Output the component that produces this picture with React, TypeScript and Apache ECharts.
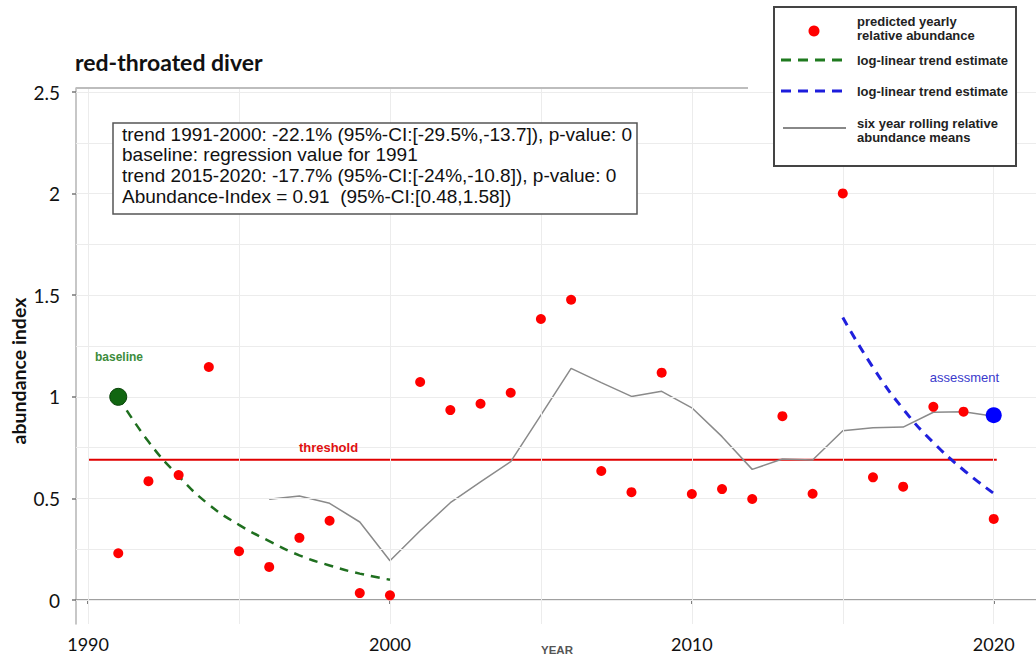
import React, { useEffect, useRef } from "react";
import * as echarts from "echarts";

const years = [1991, 1992, 1993, 1994, 1995, 1996, 1997, 1998, 1999, 2000, 2001, 2002, 2003, 2004, 2005, 2006, 2007, 2008, 2009, 2010, 2011, 2012, 2013, 2014, 2015, 2016, 2017, 2018, 2019, 2020];
const abundance = [0.23, 0.585, 0.615, 1.147, 0.24, 0.163, 0.306, 0.39, 0.034, 0.023, 1.073, 0.935, 0.966, 1.02, 1.383, 1.478, 0.635, 0.531, 1.119, 0.522, 0.546, 0.497, 0.905, 0.523, 2.001, 0.604, 0.558, 0.951, 0.927, 0.399];

const rollingYears = [1996, 1997, 1998, 1999, 2000, 2001, 2002, 2003, 2004, 2005, 2006, 2007, 2008, 2009, 2010, 2011, 2012, 2013, 2014, 2015, 2016, 2017, 2018, 2019, 2020];
const rollingMeans = [0.496, 0.512, 0.476, 0.384, 0.193, 0.341, 0.479, 0.582, 0.681, 0.91, 1.14, 1.07, 1.002, 1.027, 0.946, 0.804, 0.643, 0.694, 0.689, 0.833, 0.848, 0.851, 0.924, 0.927, 0.905];

const trend1Years = [1991, 1992, 1993, 1994, 1995, 1996, 1997, 1998, 1999, 2000];
const trend1Values = [1.0, 0.78, 0.61, 0.47, 0.37, 0.29, 0.22, 0.17, 0.13, 0.1];

const trend2Years = [2015, 2016, 2017, 2018, 2019, 2020];
const trend2Values = [1.39, 1.145, 0.94, 0.775, 0.64, 0.525];

const baselinePoint = [1991, 1.0];
const assessmentPoint = [2020, 0.91];
const thresholdValue = 0.69;
const thresholdYears = [1990, 2020.1];

const xTickLabels = [1990, 2000, 2010, 2020];
const yTickLabels = [0, 0.5, 1, 1.5, 2, 2.5];
const xGridValues = [1990, 1995, 2000, 2005, 2010, 2015, 2020];
const yGridValues = [0, 0.25, 0.5, 0.75, 1, 1.25, 1.5, 1.75, 2, 2.25, 2.5];

const annotationLines = [
  "trend 1991-2000: -22.1% (95%-CI:[-29.5%,-13.7]), p-value: 0",
  "baseline: regression value for 1991",
  "trend 2015-2020: -17.7% (95%-CI:[-24%,-10.8]), p-value: 0",
  "Abundance-Index = 0.91  (95%-CI:[0.48,1.58])",
];

const SANS = "'Liberation Sans', Arial, sans-serif";
const LATO = "Lato, 'Noto Sans', sans-serif";

function txt(text: string, x: number, y: number, o: any = {}) {
  return {
    type: "text",
    x,
    y,
    rotation: o.rotation || 0,
    z: 100,
    style: {
      text,
      fill: o.fill || "#222",
      fontSize: o.fontSize || 13,
      fontWeight: o.fontWeight || "normal",
      fontFamily: o.fontFamily || SANS,
      align: o.align || "left",
      verticalAlign: "middle",
      textAlign: o.align || "left",
      textVerticalAlign: "middle",
    },
  };
}

export default function App() {
  const ref = useRef<HTMLDivElement>(null);
  useEffect(() => {
    if (!ref.current) return;
    const chart = echarts.init(ref.current, null, { renderer: "svg" });
    const legendFont = { fontSize: 13, fontWeight: "bold", fill: "#222" };
    const option: any = {
      animation: false,
      backgroundColor: "#ffffff",
      grid: { left: 76, right: 0, top: 88, bottom: 35, containLabel: false, outerBoundsMode: "none" },
      xAxis: {
        type: "value",
        min: 1989.6,
        max: 2021.4,
        axisLine: { show: true, lineStyle: { color: "#a0a0a0", width: 2 } },
        axisTick: { show: true, customValues: xTickLabels, length: 4, lineStyle: { color: "#555", width: 1.5 } },
        axisLabel: {
          customValues: xTickLabels,
          formatter: (v: number) => String(v),
          fontSize: 18,
          fontFamily: LATO,
          color: "#111",
          margin: 11,
        },
        splitLine: { show: false },
      },
      yAxis: {
        type: "value",
        min: -0.118,
        max: 2.52,
        axisLine: { show: true, lineStyle: { color: "#b5b5b5", width: 1.5 } },
        axisTick: { show: true, customValues: yTickLabels, length: 4, lineStyle: { color: "#777", width: 1.5 } },
        axisLabel: {
          customValues: yTickLabels,
          formatter: (v: number) => String(v),
          fontSize: 19,
          fontFamily: LATO,
          color: "#111",
          margin: 16,
        },
        splitLine: { show: false },
      },
      graphic: [
        txt("red-throated diver", 75, 62, { fontSize: 23, fontWeight: "bold", fontFamily: LATO, fill: "#111" }),
        txt("abundance index", 18, 371, { fontSize: 19.5, fontWeight: "bold", fontFamily: LATO, fill: "#111", align: "center", rotation: Math.PI / 2 }),
        txt("YEAR", 557, 650, { fontSize: 11.5, fontWeight: "bold", fill: "#555", align: "center" }),
        {
          type: "line",
          shape: { x1: 76, y1: 88, x2: 748, y2: 88 },
          style: { stroke: "#bdbdbd", lineWidth: 2 },
          z: 50,
        },
        {
          type: "rect",
          shape: { x: 113, y: 123, width: 524, height: 91 },
          style: { fill: "#fff", stroke: "#555", lineWidth: 1.5 },
          z: 90,
        },
        ...annotationLines.map((l, i) => txt(l, 122, 134 + i * 20.8, { fontSize: 19, fill: "#111" })),
        {
          type: "rect",
          shape: { x: 774, y: 7, width: 242, height: 159 },
          style: { fill: "#fff", stroke: "#444", lineWidth: 2 },
          z: 90,
        },
        { type: "circle", shape: { cx: 814, cy: 31, r: 5.5 }, style: { fill: "#ff0000" }, z: 100 },
        txt("predicted yearly", 857, 21, legendFont),
        txt("relative abundance", 857, 35.5, legendFont),
        {
          type: "line",
          shape: { x1: 781, y1: 60, x2: 842, y2: 60 },
          style: { stroke: "#1f7a1f", lineWidth: 3, lineDash: [10, 7] },
          z: 100,
        },
        txt("log-linear trend estimate", 857, 60, legendFont),
        {
          type: "line",
          shape: { x1: 781, y1: 91, x2: 842, y2: 91 },
          style: { stroke: "#1c1cdc", lineWidth: 3, lineDash: [10, 7] },
          z: 100,
        },
        txt("log-linear trend estimate", 857, 91, legendFont),
        {
          type: "line",
          shape: { x1: 783, y1: 128, x2: 846, y2: 128 },
          style: { stroke: "#888", lineWidth: 2 },
          z: 100,
        },
        txt("six year rolling relative", 857, 123, legendFont),
        txt("abundance means", 857, 137.5, legendFont),
        txt("baseline", 119, 357, { fontSize: 12, fontWeight: "bold", fill: "#3c8c3c", align: "center" }),
        txt("threshold", 328.5, 447, { fontSize: 13, fontWeight: "bold", fill: "#e01010", align: "center" }),
        txt("assessment", 964.5, 377, { fontSize: 13, fill: "#3a3acc", align: "center" }),
      ],
      series: [
        {
          name: "grid",
          type: "line",
          data: [],
          silent: true,
          z: 1,
          markLine: {
            silent: true,
            symbol: ["none", "none"],
            label: { show: false },
            lineStyle: { color: "#ececec", type: "solid", width: 1 },
            data: [
              ...xGridValues.map((v) => ({ xAxis: v })),
              ...yGridValues.map((v) => ({ yAxis: v })),
            ],
          },
        },
        {
          name: "threshold",
          type: "line",
          data: thresholdYears.map((y) => [y, thresholdValue]),
          symbol: "none",
          lineStyle: { color: "#e00000", width: 2 },
          z: 3,
        },
        {
          name: "six year rolling relative abundance means",
          type: "line",
          data: rollingYears.map((y, i) => [y, rollingMeans[i]]),
          symbol: "none",
          lineStyle: { color: "#8a8a8a", width: 1.5 },
          z: 4,
        },
        {
          name: "log-linear trend estimate 1991-2000",
          type: "line",
          smooth: true,
          data: trend1Years.map((y, i) => [y, trend1Values[i]]),
          symbol: "none",
          lineStyle: { color: "#1f6f1f", width: 2.5, type: [9, 7] },
          z: 5,
        },
        {
          name: "log-linear trend estimate 2015-2020",
          type: "line",
          smooth: true,
          data: trend2Years.map((y, i) => [y, trend2Values[i]]),
          symbol: "none",
          lineStyle: { color: "#2020dd", width: 3, type: [9, 7] },
          z: 5,
        },
        {
          name: "predicted yearly relative abundance",
          type: "scatter",
          data: years.map((y, i) => [y, abundance[i]]),
          symbol: "circle",
          symbolSize: 10,
          itemStyle: { color: "#ff0000", opacity: 1 },
          z: 6,
        },
        {
          name: "baseline",
          type: "scatter",
          data: [baselinePoint],
          symbolSize: 17,
          itemStyle: { color: "#116611", borderColor: "#0a440a", borderWidth: 1, opacity: 1 },
          z: 7,
        },
        {
          name: "assessment",
          type: "scatter",
          data: [assessmentPoint],
          symbolSize: 16,
          itemStyle: { color: "#0000ff", opacity: 1 },
          z: 7,
        },
      ],
    };
    chart.setOption(option);
    return () => chart.dispose();
  }, []);
  return <div ref={ref} style={{ position: "absolute", left: 0, top: 0, width: 1036, height: 659 }} />;
}
